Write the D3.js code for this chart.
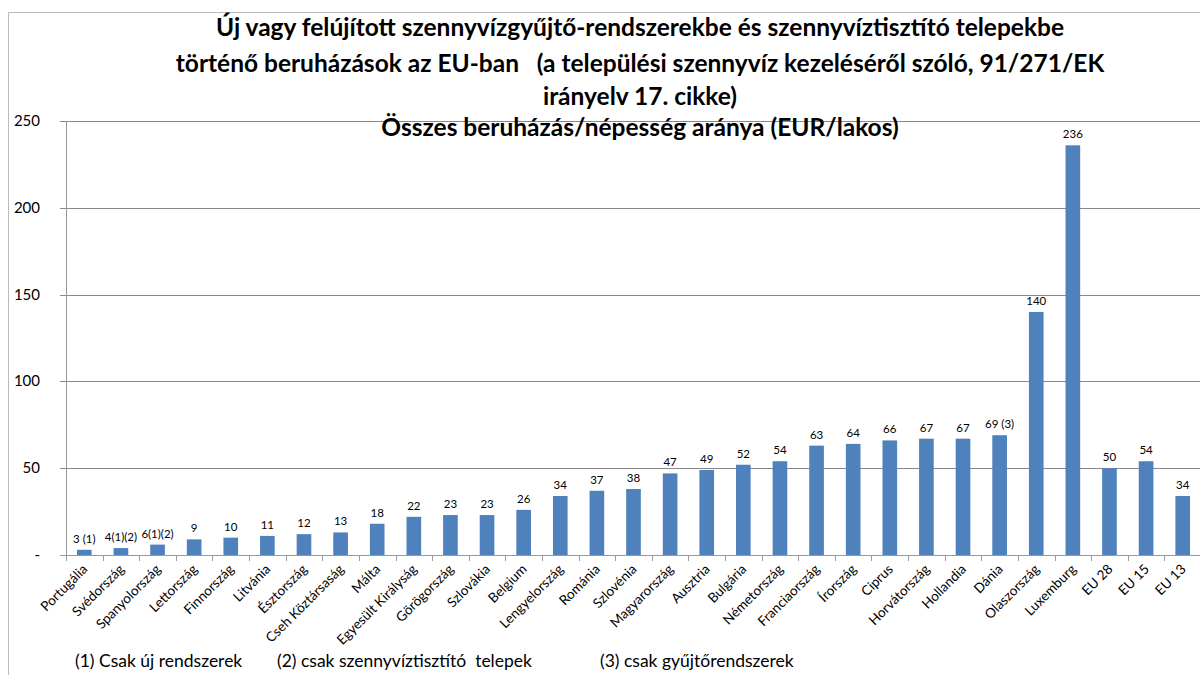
<!DOCTYPE html>
<html>
<head>
<meta charset="utf-8">
<script src="https://cdn.jsdelivr.net/npm/d3@7"></script>
<style>
  body { margin: 0; background: #fff; }
  svg { font-family: Lato, "Noto Sans", sans-serif; }
  text { white-space: pre; }
</style>
</head>
<body>
<svg id="chart" width="1200" height="675"></svg>
<script>
const countries = ['Portugália', 'Svédország', 'Spanyolország', 'Lettország', 'Finnország', 'Litvánia',
  'Észtország', 'Cseh Köztársaság', 'Málta', 'Egyesült Királyság', 'Görögország', 'Szlovákia',
  'Belgium', 'Lengyelország', 'Románia', 'Szlovénia', 'Magyarország', 'Ausztria', 'Bulgária',
  'Németország', 'Franciaország', 'Írország', 'Ciprus', 'Horvátország', 'Hollandia', 'Dánia',
  'Olaszország', 'Luxemburg', 'EU 28', 'EU 15', 'EU 13'];
const values = [3, 4, 6, 9, 10, 11, 12, 13, 18, 22, 23, 23, 26, 34, 37, 38, 47, 49, 52, 54, 63, 64,
  66, 67, 67, 69, 140, 236, 50, 54, 34];
const valueLabels = ['3 (1)', '4(1)(2)', '6(1)(2)', '9', '10', '11', '12', '13', '18', '22', '23', '23',
  '26', '34', '37', '38', '47', '49', '52', '54', '63', '64', '66', '67', '67', '69 (3)', '140', '236',
  '50', '54', '34'];
const yTicks = [0, 50, 100, 150, 200, 250];
const titleLines = [
  'Új vagy felújított szennyvízgyűjtő-rendszerekbe és szennyvíztisztító telepekbe',
  'történő beruházások az EU-ban   (a települési szennyvíz kezeléséről szóló, 91/271/EK',
  'irányelv 17. cikke)',
  'Összes beruházás/népesség aránya (EUR/lakos)'
];
const notes = [
  { text: '(1) Csak új rendszerek', x: 75 },
  { text: '(2) csak szennyvíztisztító  telepek', x: 277 },
  { text: '(3) csak gyűjtőrendszerek', x: 600 }
];

const svg = d3.select('#chart');
const margin = { left: 66, right: -1, top: 121, bottom: 120 };
const width = 1200 - margin.left - margin.right;
const height = 675 - margin.top - margin.bottom;

// outer frame
svg.append('path')
  .attr('d', 'M8.5,675 V12.5 H1200')
  .attr('fill', 'none').attr('stroke', '#bbb');

const g = svg.append('g').attr('transform', `translate(${margin.left},${margin.top})`);

const x = d3.scaleBand().domain(countries).range([0, width]).paddingInner(0.6).paddingOuter(0.3);
const y = d3.scaleLinear().domain([0, 250]).range([height, 0]);

// grid
g.selectAll('.grid').data(yTicks.slice(1)).join('line')
  .attr('x1', -6).attr('x2', width)
  .attr('y1', d => Math.round(y(d)) + 0.5).attr('y2', d => Math.round(y(d)) + 0.5)
  .attr('stroke', '#888');

g.selectAll('.ylab').data(yTicks).join('text')
  .attr('x', -26).attr('y', d => y(d) + 5)
  .attr('text-anchor', 'end').attr('font-size', 15).attr('fill', '#000')
  .text(d => d === 0 ? '-' : d);

// bars
g.selectAll('rect').data(values).join('rect')
  .attr('x', (d, i) => x(countries[i]))
  .attr('y', d => y(d))
  .attr('width', x.bandwidth())
  .attr('height', d => height - y(d))
  .attr('fill', '#4F81BD');

g.selectAll('.vlab').data(values).join('text')
  .attr('x', (d, i) => x(countries[i]) + x.bandwidth() / 2)
  .attr('y', d => y(d) - 7)
  .attr('text-anchor', 'middle').attr('font-size', 11.5)
  .text((d, i) => valueLabels[i]);

// axes lines
g.append('line').attr('x1', 0.5).attr('x2', 0.5).attr('y1', 0).attr('y2', height)
  .attr('stroke', '#999');
g.append('line').attr('x1', -6).attr('x2', width).attr('y1', height + 0.5).attr('y2', height + 0.5)
  .attr('stroke', '#999');

const step = x.step();
g.selectAll('.xtick').data(d3.range(countries.length + 1)).join('line')
  .attr('x1', i => Math.round(i * step) + 0.5).attr('x2', i => Math.round(i * step) + 0.5)
  .attr('y1', height).attr('y2', height + 6).attr('stroke', '#999');

g.selectAll('.xlab').data(countries).join('text')
  .attr('transform', d => `translate(${x(d) + x.bandwidth() / 2 + 4},${height + 15}) rotate(-45)`)
  .attr('text-anchor', 'end').attr('font-size', 13.5)
  .text(d => d);

// title
svg.selectAll('.title').data(titleLines).join('text')
  .attr('x', 640).attr('y', (d, i) => [36, 72, 105, 136][i])
  .attr('text-anchor', 'middle').attr('font-size', 24.5).attr('font-weight', 'bold')
  .text(d => d);

svg.selectAll('.note').data(notes).join('text')
  .attr('x', d => d.x).attr('y', 667)
  .attr('font-size', 17.5)
  .text(d => d.text);
</script>
</body>
</html>
